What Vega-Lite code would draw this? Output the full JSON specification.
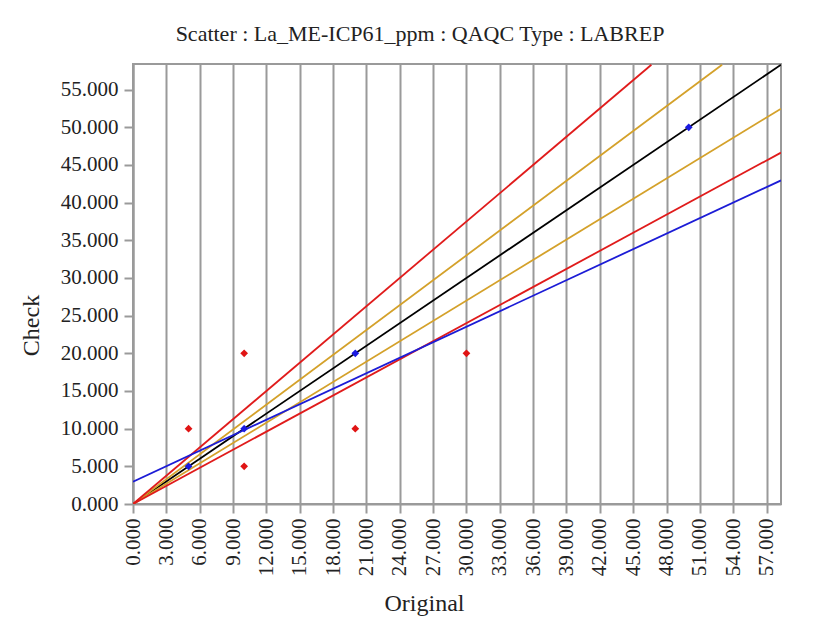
{
  "$schema": "https://vega.github.io/schema/vega-lite/v6.json",
  "width": 648,
  "height": 440,
  "autosize": {"type": "none"},
  "padding": {"left": 133, "top": 64, "right": 51, "bottom": 125},
  "background": "white",
  "title": {
    "text": "Scatter : La_ME-ICP61_ppm : QAQC Type : LABREP",
    "font": "Liberation Serif",
    "fontSize": 22,
    "fontWeight": "normal",
    "color": "#222222",
    "anchor": "middle",
    "dx": -37,
    "baseline": "alphabetic",
    "offset": 1
  },
  "config": {
    "view": {"stroke": "#9a9a9a", "strokeWidth": 2},
    "axis": {
      "labelFont": "Liberation Serif",
      "labelFontSize": 21,
      "labelColor": "#222222",
      "labelOverlap": false,
      "titleFont": "Liberation Serif",
      "titleFontSize": 24,
      "titleFontWeight": "normal",
      "titleColor": "#222222",
      "tickColor": "#9a9a9a",
      "tickWidth": 2,
      "tickSize": 9,
      "tickCount": 40,
      "domainColor": "#9a9a9a",
      "domainWidth": 2,
      "gridColor": "#9a9a9a",
      "gridWidth": 2,
      "gridOpacity": 1
    }
  },
  "datasets": {
    "lines": [
      {"series": "1:1", "original": 0, "check": 0},
      {"series": "1:1", "original": 58.3, "check": 58.3},
      {"series": "+10%", "original": 0, "check": 0},
      {"series": "+10%", "original": 53.0, "check": 58.3},
      {"series": "-10%", "original": 0, "check": 0},
      {"series": "-10%", "original": 58.3, "check": 52.47},
      {"series": "+25%", "original": 0, "check": 0},
      {"series": "+25%", "original": 46.64, "check": 58.3},
      {"series": "-25%", "original": 0, "check": 0},
      {"series": "-25%", "original": 58.3, "check": 46.64},
      {"series": "regression", "original": 0, "check": 2.95},
      {"series": "regression", "original": 58.3, "check": 42.95}
    ],
    "points": [
      {"kind": "pair", "original": 5, "check": 5},
      {"kind": "pair", "original": 10, "check": 10},
      {"kind": "pair", "original": 20, "check": 20},
      {"kind": "pair", "original": 50, "check": 50},
      {"kind": "other", "original": 5, "check": 10},
      {"kind": "other", "original": 10, "check": 20},
      {"kind": "other", "original": 10, "check": 5},
      {"kind": "other", "original": 20, "check": 10},
      {"kind": "other", "original": 30, "check": 20}
    ]
  },
  "layer": [
    {
      "data": {"name": "lines"},
      "mark": {"type": "line", "strokeWidth": 1.8, "clip": true},
      "encoding": {
        "x": {
          "field": "original",
          "type": "quantitative",
          "scale": {"domain": [0, 58.3], "nice": false, "zero": false},
          "axis": {
            "values": [0, 3, 6, 9, 12, 15, 18, 21, 24, 27, 30, 33, 36, 39, 42, 45, 48, 51, 54, 57],
            "tickCount": 40,
            "format": ".3f",
            "labelAngle": -90,
            "labelPadding": 5,
            "grid": true,
            "title": "Original",
            "titleX": 291,
            "titleY": 106,
            "titleBaseline": "alphabetic"
          }
        },
        "y": {
          "field": "check",
          "type": "quantitative",
          "scale": {"domain": [0, 58.4], "nice": false, "zero": false},
          "axis": {
            "values": [0, 5, 10, 15, 20, 25, 30, 35, 40, 45, 50, 55],
            "tickCount": 40,
            "format": ".3f",
            "labelPadding": 6,
            "grid": false,
            "title": "Check",
            "titleX": -95,
            "titleY": 261,
            "titleBaseline": "alphabetic"
          }
        },
        "color": {
          "field": "series",
          "type": "nominal",
          "scale": {
            "domain": ["regression", "-25%", "-10%", "1:1", "+10%", "+25%"],
            "range": ["#1c1cd6", "#e01b1b", "#d4a12a", "#000000", "#d4a12a", "#e01b1b"]
          },
          "legend": null
        }
      }
    },
    {
      "data": {"name": "points"},
      "mark": {"type": "point", "shape": "diamond", "filled": true, "size": 60, "opacity": 1},
      "encoding": {
        "x": {"field": "original", "type": "quantitative"},
        "y": {"field": "check", "type": "quantitative"},
        "color": {
          "field": "kind",
          "type": "nominal",
          "scale": {"domain": ["pair", "other"], "range": ["#1a1ae0", "#e01414"]},
          "legend": null
        }
      }
    }
  ],
  "resolve": {"scale": {"color": "independent"}}
}
